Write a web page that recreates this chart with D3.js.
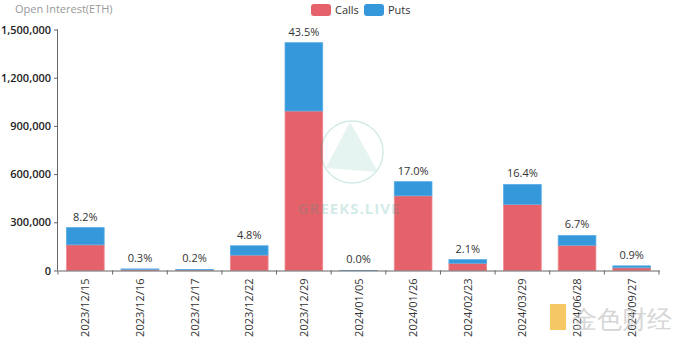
<!DOCTYPE html>
<html><head><meta charset="utf-8">
<script src="https://cdn.jsdelivr.net/npm/d3@7"></script>
<style>body{margin:0;background:#fff;} text{font-family:"Open Sans","Noto Sans",sans-serif;}</style>
</head><body>
<svg id="c" width="679" height="338"></svg>
<script>
const categories = ["2023/12/15","2023/12/16","2023/12/17","2023/12/22","2023/12/29","2024/01/05","2024/01/26","2024/02/23","2024/03/29","2024/06/28","2024/09/27"];
const calls = [160000, 6000, 4000, 96000, 993000, 300, 465000, 45000, 412000, 157000, 17000];
const puts  = [107000, 3800, 2500, 58000, 425000, 200, 88000, 23000, 124000, 61000, 12000];
const pctLabels = ["8.2%","0.3%","0.2%","4.8%","43.5%","0.0%","17.0%","2.1%","16.4%","6.7%","0.9%"];
const yTicks = [0, 300000, 600000, 900000, 1200000, 1500000];

const svg = d3.select("#c");
const m = {l:58, r:20, t:29.5, b:67.5};
const W = 679, H = 338;
const x = d3.scaleBand().domain(categories).range([m.l, W - m.r]).paddingInner(0.31).paddingOuter(0.155);
const xb = d3.scaleBand().domain(categories).range([m.l, W - m.r]);
const y = d3.scaleLinear().domain([0, 1500000]).range([H - m.b, m.t]);

const data = categories.map((c,i)=>({c, calls:calls[i], puts:puts[i], pct:pctLabels[i]}));

// bars
const g = svg.append("g");
g.selectAll(".call").data(data).enter().append("rect")
  .attr("x", d=>x(d.c)).attr("width", x.bandwidth())
  .attr("y", d=>y(d.calls)).attr("height", d=>y(0)-y(d.calls))
  .attr("fill","#e5626a").attr("stroke","#ef8b91").attr("stroke-width",0.8);
g.selectAll(".put").data(data).enter().append("rect")
  .attr("x", d=>x(d.c)).attr("width", x.bandwidth())
  .attr("y", d=>y(d.calls+d.puts)).attr("height", d=>y(d.calls)-y(d.calls+d.puts))
  .attr("fill","#3498db").attr("stroke","#5aaee6").attr("stroke-width",0.8);

g.selectAll(".lbl").data(data).enter().append("text")
  .attr("x", d=>x(d.c)+x.bandwidth()/2).attr("y", d=>y(d.calls+d.puts)-7)
  .attr("text-anchor","middle").attr("font-size",11).attr("fill","#333").text(d=>d.pct);

// axes
const ya = svg.append("g").attr("transform",`translate(${m.l},0)`)
  .call(d3.axisLeft(y).tickValues(yTicks).tickFormat(d3.format(",")).tickSize(4).tickPadding(3));
ya.select(".domain").attr("stroke","#666").attr("d",`M-0.5,${y(0)}V${y(1500000)}`);
ya.selectAll(".tick line").attr("stroke","#666");
ya.selectAll("text").attr("font-size",11).attr("fill","#222").attr("font-weight","600");

const xa = svg.append("g").attr("transform",`translate(0,${y(0)})`)
  .call(d3.axisBottom(xb).tickSize(0).tickPadding(0));
xa.select(".domain").attr("stroke","#666");
xa.selectAll(".tick text").remove();
xa.selectAll(".bnd").data(categories.concat(["__end"])).enter().append("line")
  .attr("x1",(d,i)=> i<categories.length ? xb(d) : W-m.r)
  .attr("x2",(d,i)=> i<categories.length ? xb(d) : W-m.r)
  .attr("y1",0).attr("y2",4).attr("stroke","#666");
xa.selectAll(".xl").data(categories).enter().append("text")
  .attr("transform", d=>`translate(${xb(d)+xb.bandwidth()/2+4},8) rotate(-90)`)
  .attr("text-anchor","end").attr("font-size",11).attr("fill","#333").text(d=>d);

// title
svg.append("text").attr("x",15).attr("y",13).attr("font-size",11).attr("fill","#999").text("Open Interest(ETH)");

// legend
const leg = svg.append("g");
const items = [["Calls","#e5626a",311],["Puts","#3498db",364]];
items.forEach(([t,c,lx])=>{
  leg.append("rect").attr("x",lx).attr("y",4).attr("width",20).attr("height",12).attr("rx",3).attr("fill",c);
  leg.append("text").attr("x",lx+24).attr("y",14).attr("font-size",11).attr("fill","#333").text(t);
});

// watermarks (overlay)
const wm = svg.append("g").attr("opacity", 0.2);
wm.append("circle").attr("cx", 352).attr("cy", 152).attr("r", 31).attr("fill","none").attr("stroke","#2a9d8f").attr("stroke-width",1.5);
wm.append("path").attr("d","M350,122 L378,172 L326,168 Z").attr("fill","#2a9d8f").attr("opacity",0.6);
wm.append("text").attr("x", 349).attr("y", 214).attr("text-anchor","middle").attr("font-size",15).attr("font-weight","bold").attr("letter-spacing",1).attr("fill","#2a9d8f").text("GREEKS.LIVE");
const wm2 = svg.append("g").attr("opacity", 0.6);
wm2.append("rect").attr("x",550).attr("y",304).attr("width",16).attr("height",26).attr("fill","#f0a500");
wm2.append("text").attr("x", 572).attr("y", 328).attr("font-size",25).attr("fill","#bbb").attr("font-family","Noto Sans CJK SC").text("金色财经");
</script>
</body></html>
